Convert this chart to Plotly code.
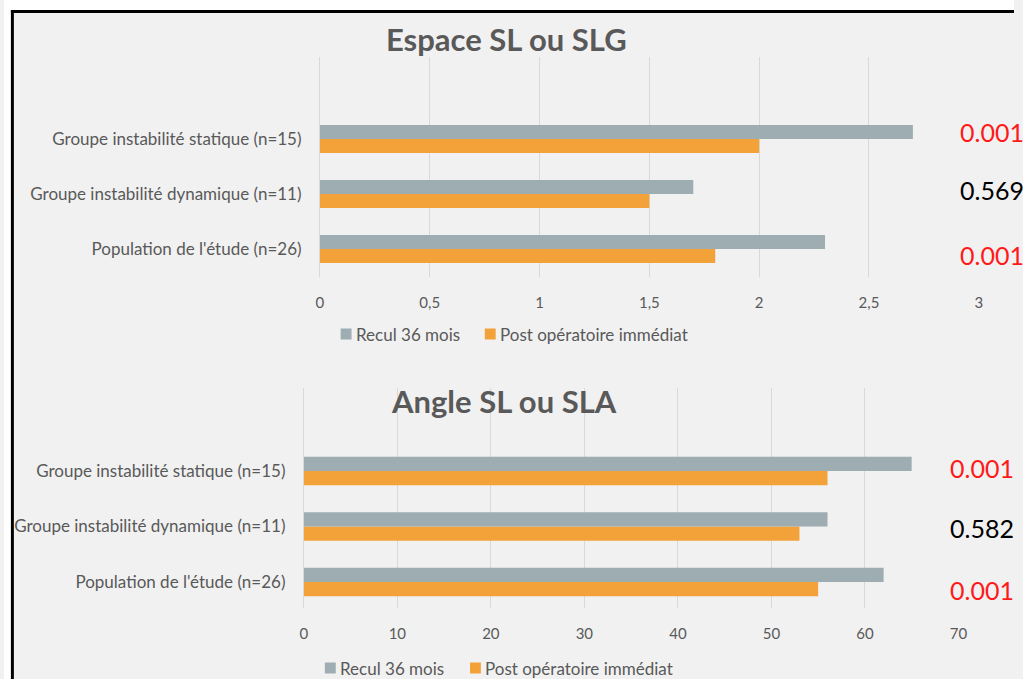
import plotly.graph_objects as go

W, H = 1023, 679

# --- data -------------------------------------------------------------
categories = [
    "Population de l'étude (n=26)",
    "Groupe instabilité dynamique (n=11)",
    "Groupe instabilité statique (n=15)",
]
series_names = ["Recul 36 mois", "Post opératoire immédiat"]

espace_recul = [2.3, 1.7, 2.7]
espace_postop = [1.8, 1.5, 2.0]
espace_p = ["0.001", "0.569", "0.001"]

angle_recul = [62, 56, 65]
angle_postop = [55, 53, 56]
angle_p = ["0.001", "0.582", "0.001"]

espace_ticks = [0, 0.5, 1, 1.5, 2, 2.5, 3]
espace_ticktext = ["0", "0,5", "1", "1,5", "2", "2,5", "3"]
angle_ticks = [0, 10, 20, 30, 40, 50, 60, 70]
angle_ticktext = ["0", "10", "20", "30", "40", "50", "60", "70"]

titles = ["Espace SL ou SLG", "Angle SL ou SLA"]

# --- style ------------------------------------------------------------
GREY = "#9dadb2"
ORANGE = "#f3a23a"
TEXT = "#595959"
GRID = "#d9d9d9"
BG = "#f1f1f1"
FONT = "Lato"


def px_x(x):
    return x / W


def px_y(y):
    return 1 - y / H


fig = go.Figure()

# Orange first so it sits below the grey bar inside each group
for axis_id, recul, postop in (("", espace_recul, espace_postop),
                               ("2", angle_recul, angle_postop)):
    fig.add_trace(go.Bar(
        y=categories, x=postop, orientation="h", name=series_names[1],
        marker=dict(color=ORANGE, line=dict(width=0)),
        xaxis="x" + axis_id, yaxis="y" + axis_id, showlegend=False,
    ))
    fig.add_trace(go.Bar(
        y=categories, x=recul, orientation="h", name=series_names[0],
        marker=dict(color=GREY, line=dict(width=0)),
        xaxis="x" + axis_id, yaxis="y" + axis_id, showlegend=False,
    ))

xcommon = dict(showgrid=True, gridcolor=GRID, gridwidth=1, zeroline=True,
               zerolinecolor=GRID, zerolinewidth=1, showline=False,
               ticks="outside", ticklen=0, ticklabelstandoff=12,
               tickfont=dict(family=FONT, size=15, color=TEXT))
ycommon = dict(type="category", categoryorder="array", categoryarray=categories,
               showgrid=False, zeroline=False, showline=False,
               ticks="outside", ticklen=0, ticklabelstandoff=14,
               tickfont=dict(family=FONT, size=17, color=TEXT))

fig.update_layout(
    width=W, height=H,
    margin=dict(l=0, r=0, t=0, b=0),
    paper_bgcolor=BG, plot_bgcolor=BG,
    barmode="group", bargap=0.49, bargroupgap=0,
    xaxis=dict(domain=[px_x(320), px_x(987.3)], range=[0, 3], anchor="y",
               tickvals=espace_ticks, ticktext=espace_ticktext, **xcommon),
    yaxis=dict(domain=[px_y(277), px_y(57)], range=[-0.509, 3.491], anchor="x",
               **ycommon),
    xaxis2=dict(domain=[px_x(303.7), px_x(966.7)], range=[0, 70], anchor="y2",
                tickvals=angle_ticks, ticktext=angle_ticktext, **xcommon),
    yaxis2=dict(domain=[px_y(608), px_y(388)], range=[-0.468, 3.495], anchor="x2",
                **ycommon),
)

annotations = []
shapes = []

# chart titles
for title, cx, cy in ((titles[0], 509, 39), (titles[1], 506, 401)):
    annotations.append(dict(
        text="<b>" + title + "</b>", x=px_x(cx), y=px_y(cy),
        xref="paper", yref="paper", xanchor="center", yanchor="middle",
        showarrow=False, font=dict(family=FONT, size=31, color=TEXT),
    ))

# p-values to the right of each group (text boxes nudged vertically)
p_layout = (
    (espace_p, "y", 966, [-6, 4, 7]),
    (angle_p, "y2", 956, [-8, -1, 3]),
)
for pvals, yref, x0, shifts in p_layout:
    for i, p in enumerate(pvals):
        annotations.append(dict(
            text=p, x=px_x(x0), y=categories[i], xref="paper", yref=yref,
            xanchor="left", yanchor="middle", yshift=shifts[i], showarrow=False,
            font=dict(family=FONT, size=25,
                      color="#ff1a1a" if p == "0.001" else "#000000"),
        ))

# legends (square swatch + label) below each chart
for ly, gx, ox in ((334, 341, 487), (668, 325, 472)):
    for sx, color, label in ((gx, GREY, series_names[0]), (ox, ORANGE, series_names[1])):
        shapes.append(dict(
            type="rect", xref="paper", yref="paper",
            x0=px_x(sx), x1=px_x(sx + 11), y0=px_y(ly + 5.5), y1=px_y(ly - 5.5),
            fillcolor=color, line=dict(width=0),
        ))
        annotations.append(dict(
            text=label, x=px_x(sx + 13), y=px_y(ly), xref="paper", yref="paper",
            xanchor="left", yanchor="middle", showarrow=False,
            font=dict(family=FONT, size=17, color=TEXT),
        ))

# white margin and black frame around the panel
shapes += [
    dict(type="rect", xref="paper", yref="paper", x0=0, x1=1, y0=px_y(10), y1=1,
         fillcolor="white", line=dict(width=0), layer="above"),
    dict(type="rect", xref="paper", yref="paper", x0=0, x1=px_x(7), y0=0, y1=1,
         fillcolor="white", line=dict(width=0), layer="above"),
    dict(type="rect", xref="paper", yref="paper", x0=px_x(7), x1=1,
         y0=px_y(13), y1=px_y(10), fillcolor="black", line=dict(width=0), layer="above"),
    dict(type="rect", xref="paper", yref="paper", x0=px_x(7), x1=px_x(10),
         y0=0, y1=px_y(10), fillcolor="black", line=dict(width=0), layer="above"),
]

fig.update_layout(annotations=annotations, shapes=shapes)

fig.write_html("out.html")
